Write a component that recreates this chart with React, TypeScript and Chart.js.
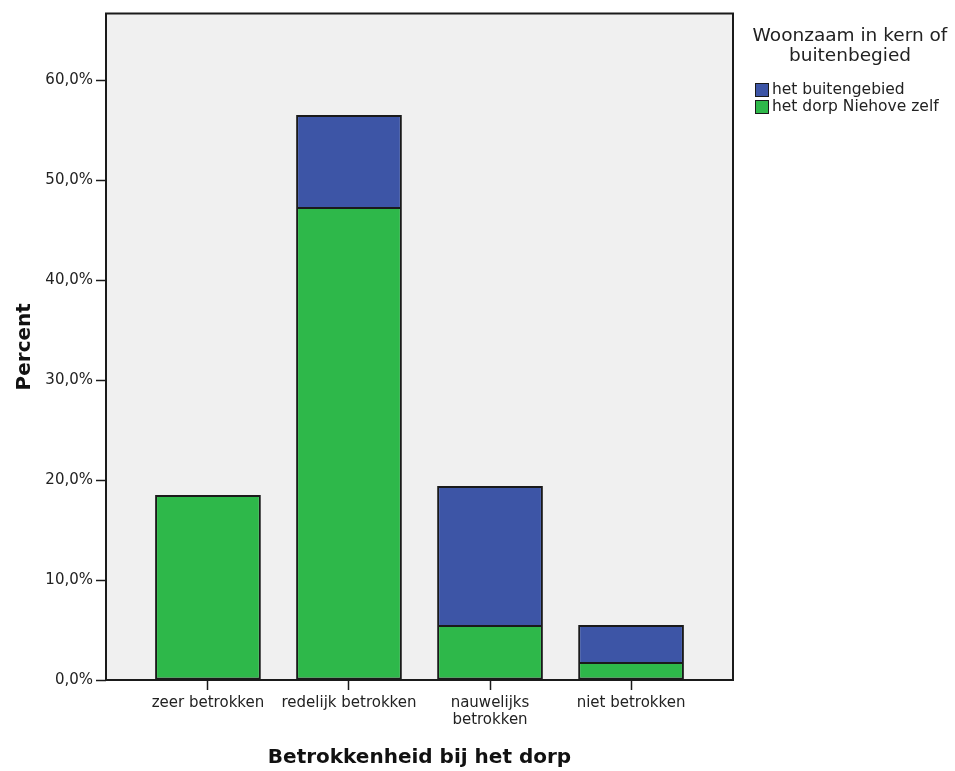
import React, { useEffect, useRef } from "react";
import { Chart, registerables } from "chart.js";

Chart.register(...registerables);

const categories: string[][] = [
  ["zeer betrokken"],
  ["redelijk betrokken"],
  ["nauwelijks", "betrokken"],
  ["niet betrokken"],
];
const dorpValues = [18.5, 47.3, 5.5, 1.8];
const buitenValues = [0, 9.2, 13.9, 3.7];
const yTicks = [0, 10, 20, 30, 40, 50, 60];
const legendTitle = ["Woonzaam in kern of", "buitenbegied"];
const seriesNames = { buiten: "het buitengebied", dorp: "het dorp Niehove zelf" };
const xTitle = "Betrokkenheid bij het dorp";
const yTitle = "Percent";

const GREEN = "#2eb84a";
const BLUE = "#3d55a6";
const EDGE = "#1a1a1a";
const TEXT = "#222222";
const FONT = "'DejaVu Sans', sans-serif";

const framePlugin = {
  id: "frame",
  beforeDraw(chart: any) {
    const { ctx, chartArea: a } = chart;
    ctx.save();
    ctx.fillStyle = "#f0f0f0";
    ctx.fillRect(a.left, a.top, a.right - a.left, a.bottom - a.top);
    ctx.restore();
  },
  afterDraw(chart: any) {
    const { ctx, chartArea: a } = chart;
    ctx.save();
    ctx.strokeStyle = EDGE;
    ctx.lineWidth = 2;
    ctx.strokeRect(a.left, a.top, a.right - a.left, a.bottom - a.top);
    ctx.restore();
  },
};

export default function App() {
  const ref = useRef<HTMLCanvasElement>(null);

  useEffect(() => {
    if (!ref.current) return;
    const chart = new Chart(ref.current, {
      type: "bar",
      data: {
        datasets: [
          {
            label: seriesNames.dorp,
            data: dorpValues.map((v, i) => ({ x: i, y: v })),
            backgroundColor: GREEN,
            borderColor: EDGE,
            borderWidth: 2,
            borderSkipped: false,
            categoryPercentage: 1,
            barPercentage: 0.75,
          },
          {
            label: seriesNames.buiten,
            data: buitenValues.map((v, i) => ({ x: i, y: v })),
            backgroundColor: BLUE,
            borderColor: EDGE,
            borderWidth: 2,
            borderSkipped: "start",
            categoryPercentage: 1,
            barPercentage: 0.75,
          },
        ],
      },
      options: {
        responsive: false,
        animation: false,
        devicePixelRatio: 1,
        layout: { padding: { left: 0, right: 222, top: 13.5, bottom: 0 } },
        plugins: {
          legend: { display: false },
          tooltip: { enabled: false },
        },
        scales: {
          x: {
            type: "linear",
            stacked: true,
            offset: false,
            min: -0.723,
            max: 3.723,
            afterBuildTicks: (scale: any) => {
              scale.ticks = categories.map((_, i) => ({ value: i }));
            },
            afterFit: (scale: any) => {
              scale.height = 91;
            },
            grid: {
              display: true,
              offset: false,
              drawOnChartArea: false,
              drawTicks: true,
              tickLength: 10,
              tickColor: EDGE,
              tickWidth: 1.5,
            },
            border: { display: false },
            ticks: {
              autoSkip: false,
              maxRotation: 0,
              padding: 4,
              color: TEXT,
              font: { family: FONT, size: 15, lineHeight: 1.15 },
              callback: (v: any) => categories[Math.round(Number(v))] ?? "",
            },
            title: {
              display: true,
              text: xTitle,
              color: "#111",
              font: { family: FONT, size: 20, weight: "bold", lineHeight: 1.2 },
              padding: { top: 0, bottom: 1 },
            },
          },
          y: {
            type: "linear",
            stacked: true,
            min: 0,
            max: 66.65,
            afterBuildTicks: (scale: any) => {
              scale.ticks = yTicks.map((v) => ({ value: v }));
            },
            afterFit: (scale: any) => {
              scale.width = 106;
            },
            grid: {
              display: true,
              drawOnChartArea: false,
              drawTicks: true,
              tickLength: 10,
              tickColor: EDGE,
              tickWidth: 1.5,
            },
            border: { display: false },
            ticks: {
              padding: 3,
              color: TEXT,
              font: { family: FONT, size: 15 },
              callback: (v: any) => Number(v).toFixed(1).replace(".", ",") + "%",
            },
            title: {
              display: true,
              text: yTitle,
              color: "#111",
              font: { family: FONT, size: 20, weight: "bold", lineHeight: 1.2 },
              padding: { top: 13, bottom: 0 },
            },
          },
        },
      } as any,
      plugins: [framePlugin],
    });
    return () => chart.destroy();
  }, []);

  const box = (color: string) => ({
    display: "inline-block",
    width: 12,
    height: 12,
    background: color,
    border: `1px solid ${EDGE}`,
    marginRight: 3,
    verticalAlign: "middle",
  });

  return (
    <div style={{ position: "absolute", left: 0, top: 0, width: 955, height: 771, background: "#fff" }}>
      <canvas ref={ref} width={955} height={771} style={{ display: "block" }} />
      <div
        style={{
          position: "absolute",
          left: 745,
          top: 25,
          width: 210,
          textAlign: "center",
          fontFamily: FONT,
          fontSize: 18.5,
          lineHeight: "20px",
          color: TEXT,
        }}
      >
        {legendTitle.map((t) => (
          <div key={t}>{t}</div>
        ))}
      </div>
      <div
        style={{
          position: "absolute",
          left: 755,
          top: 81,
          fontFamily: FONT,
          fontSize: 15.5,
          lineHeight: "17px",
          color: TEXT,
          whiteSpace: "nowrap",
        }}
      >
        <div>
          <span style={box(BLUE)} />
          <span style={{ verticalAlign: "middle" }}>{seriesNames.buiten}</span>
        </div>
        <div>
          <span style={box(GREEN)} />
          <span style={{ verticalAlign: "middle" }}>{seriesNames.dorp}</span>
        </div>
      </div>
    </div>
  );
}
